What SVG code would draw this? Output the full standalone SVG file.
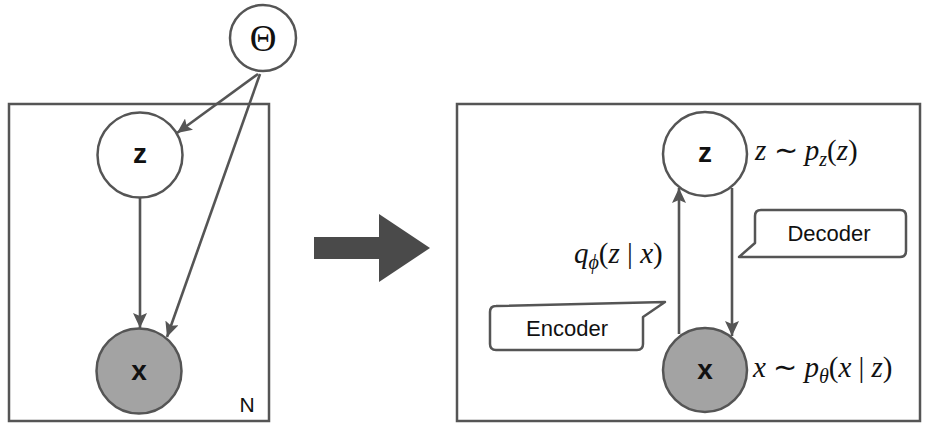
<svg xmlns="http://www.w3.org/2000/svg" width="929" height="427" viewBox="0 0 929 427">
<style>
.panel{fill:#fff;stroke:#555;stroke-width:2.5}
.node{fill:#fff;stroke:#555;stroke-width:2.5}
.obs{fill:#a3a3a3;stroke:#555;stroke-width:2.5}
.lbl{font-family:"Liberation Sans",Arial,sans-serif;font-weight:bold;font-size:28px;fill:#111;text-anchor:middle}
.edge{stroke:#555;stroke-width:2.6;fill:none;marker-end:url(#ah)}
.callout{fill:#fff;stroke:#555;stroke-width:2.5;stroke-linejoin:round}
.ctext{font-family:"Liberation Sans",Arial,sans-serif;font-size:22px;fill:#111;text-anchor:middle}
.math{font-family:"Liberation Serif","Times New Roman",serif;font-size:29px;fill:#111}
.it{font-style:italic}
</style>
<defs>
<marker id="ah" markerUnits="userSpaceOnUse" markerWidth="16" markerHeight="14" refX="15" refY="7" orient="auto">
<path d="M0,0 L15,7 L0,14 L3,7 z" fill="#555"/>
</marker>
</defs>
<rect width="929" height="427" fill="#fff"/>

<g id="plate-left">
<rect class="panel" x="9" y="104" width="260" height="317"/>
<text x="247" y="412" font-family="Liberation Sans, Arial, sans-serif" font-size="21" fill="#111" text-anchor="middle">N</text>
</g>

<g id="edges-left">
<line class="edge" x1="258" y1="74" x2="177" y2="133"/>
<line class="edge" x1="260" y1="74" x2="167" y2="337"/>
<line class="edge" x1="140" y1="198" x2="140" y2="328"/>
</g>

<g id="node-theta">
<circle class="node" cx="263" cy="38" r="33"/>
<text x="263" y="51" font-family="Liberation Serif, Times New Roman, serif" font-size="37" fill="#111" text-anchor="middle">Θ</text>
</g>
<g id="node-z-left">
<circle class="node" cx="140" cy="155" r="42.5"/>
<text class="lbl" x="140" y="163">z</text>
</g>
<g id="node-x-left">
<circle class="obs" cx="139" cy="371" r="42.5"/>
<text class="lbl" x="139" y="380">x</text>
</g>

<g id="big-arrow">
<path d="M314,237 L379,237 L379,214 L430,248 L379,282 L379,259 L314,259 z" fill="#4a4a4a"/>
</g>

<g id="plate-right">
<rect class="panel" x="457" y="104" width="463" height="317"/>
</g>

<g id="edges-right">
<line class="edge" x1="679" y1="334" x2="679" y2="188"/>
<line class="edge" x1="732" y1="188" x2="732" y2="336"/>
</g>

<g id="node-z-right">
<circle class="node" cx="705" cy="154" r="42"/>
<text class="lbl" x="705" y="162">z</text>
</g>
<g id="node-x-right">
<circle class="obs" cx="705" cy="370" r="42"/>
<text class="lbl" x="705" y="379">x</text>
</g>

<g id="callout-decoder">
<path class="callout" d="M761,210 L900,210 Q906,210 906,216 L906,251 Q906,257 900,257 L739,257 L755,243 L755,216 Q755,210 761,210 z"/>
<text class="ctext" x="829" y="241">Decoder</text>
</g>
<g id="callout-encoder">
<path class="callout" d="M496,306 L665,302 L643,317 L643,344 Q643,350 637,350 L496,350 Q490,350 490,344 L490,312 Q490,306 496,306 z"/>
<text class="ctext" x="567" y="336">Encoder</text>
</g>

<g id="math-labels">
<text class="math" x="755" y="160"><tspan class="it">z</tspan> ∼ <tspan class="it">p</tspan><tspan class="it" font-size="20" dy="6">z</tspan><tspan dy="-6">(</tspan><tspan class="it">z</tspan>)</text>
<text class="math" x="574" y="263"><tspan class="it">q</tspan><tspan class="it" font-size="20" dy="6">ϕ</tspan><tspan dy="-6">(</tspan><tspan class="it">z</tspan> | <tspan class="it">x</tspan>)</text>
<text class="math" x="753" y="377"><tspan class="it">x</tspan> ∼ <tspan class="it">p</tspan><tspan class="it" font-size="20" dy="6">θ</tspan><tspan dy="-6">(</tspan><tspan class="it">x</tspan> | <tspan class="it">z</tspan>)</text>
</g>
</svg>
